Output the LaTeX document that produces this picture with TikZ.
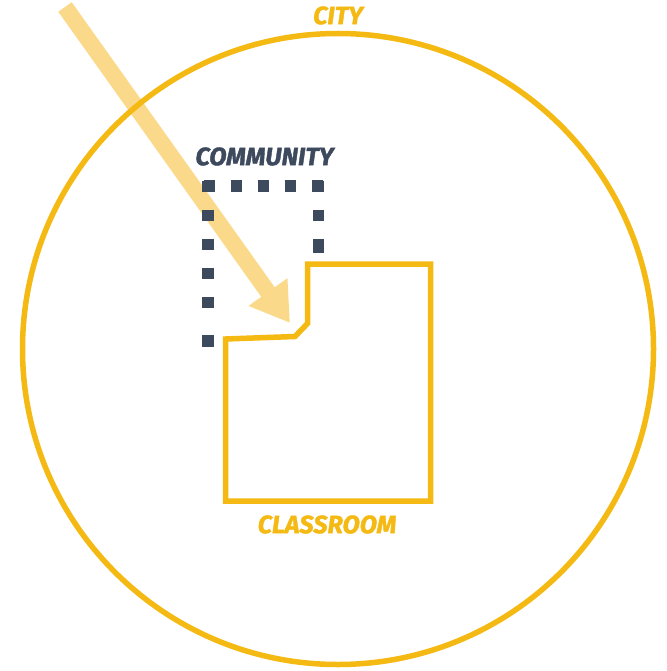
\documentclass[tikz,border=0pt]{standalone}
\usepackage{fontspec}
\setmainfont{Fira Sans}
\newfontfamily\lblfont{Fira Sans}[FakeStretch=1.01, BoldItalicFeatures={FakeBold=1.6}]
\usetikzlibrary{arrows.meta}
\definecolor{gold}{HTML}{F4B913}
\definecolor{slate}{HTML}{3D4A5D}
\definecolor{pale}{HTML}{FBD98A}
\tikzset{
  lbl/.style={inner sep=0pt, font=\lblfont\fontsize{25}{25}\selectfont\bfseries\itshape},
  dashline/.style={draw=slate, line width=11.5pt, line cap=butt},
  goldline/.style={draw=gold, line width=5.5pt, line join=miter},
}
\begin{document}
\begin{tikzpicture}[x=1pt,y=-1pt]
\useasboundingbox (0,0) rectangle (666,671);
% arrow
\coordinate (astart) at (65,7);
\coordinate (atip) at (290,323);
\draw[pale, line width=16.5pt, -{Triangle[width=45pt,length=38pt]}] (astart) -- (atip);
% community dashed outline
\draw[dashline, dash pattern=on 11.5pt off 15.5pt] (203.5,186) -- (326,186);
\draw[dashline, dash pattern=on 11.5pt off 17.5pt on 11.5pt off 17.5pt on 11.5pt off 17.5pt on 11.5pt off 17.5pt on 11.5pt off 27pt on 11.5pt off 60pt] (208,180.5) -- (208,348);
\draw[dashline, dash pattern=on 11.5pt off 17.5pt on 11.5pt off 17.5pt on 14pt off 60pt] (318.5,180.5) -- (318.5,256);
% city circle
\draw[goldline] (338,349) circle[radius=315.5];
% classroom outline
\draw[goldline] (307.5,264) -- (430.5,264) -- (430.5,501) -- (225.5,501) -- (225.5,339) -- (295,336.5) -- (307.5,323.5) -- cycle;
% labels
\node[lbl, text=gold] (city) at (338,15.5) {CITY};
\node[lbl, text=slate] (community) at (264.5,156.5) {COMMUNITY};
\node[lbl, text=gold] (classroom) at (327,524.5) {CLASSROOM};
\end{tikzpicture}
\end{document}
